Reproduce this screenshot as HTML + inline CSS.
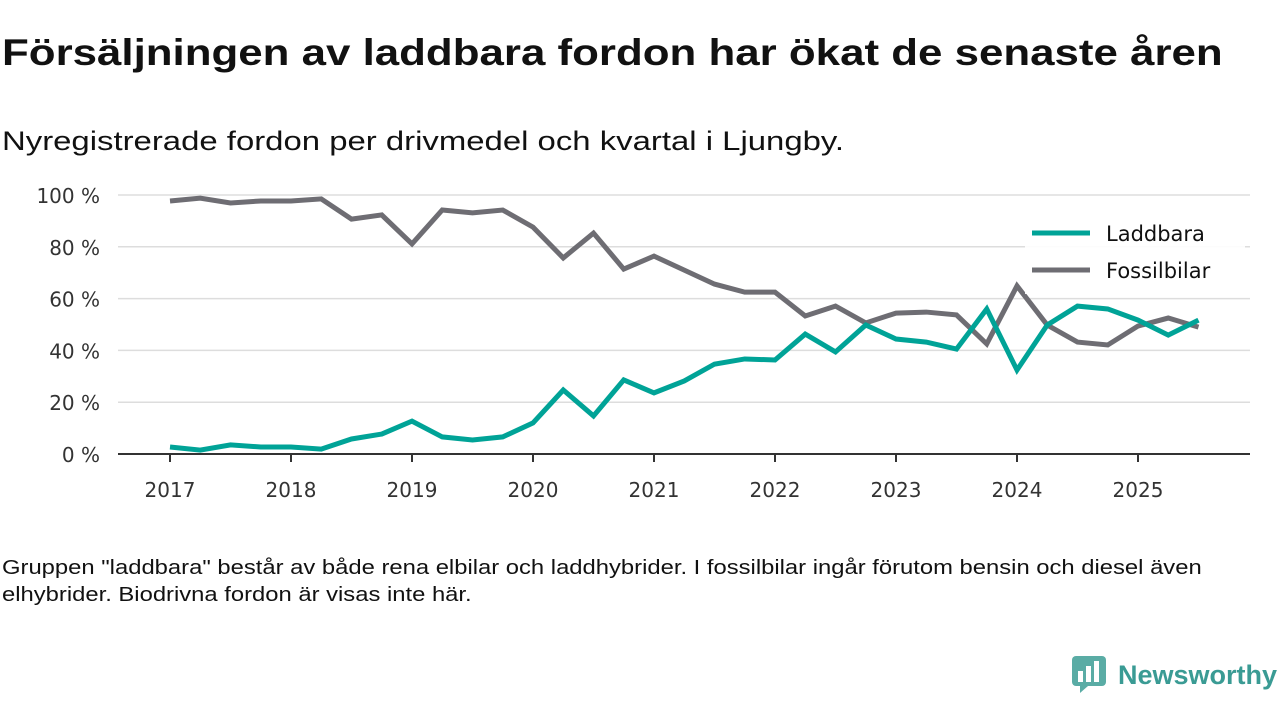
<!DOCTYPE html>
<html><head><meta charset="utf-8"><style>
body{margin:0;width:1280px;height:720px;background:#fff;font-family:"Liberation Sans","DejaVu Sans",sans-serif;color:#111;position:relative;overflow:hidden}
.t{position:absolute;left:2px;top:32px;font-size:37px;font-weight:bold;margin:0;transform:scaleX(1.185);transform-origin:0 0;white-space:nowrap}
.s{position:absolute;left:2px;top:126px;font-size:27px;transform:scaleX(1.218);transform-origin:0 0;white-space:nowrap}
.f{position:absolute;left:2px;top:555px;font-size:20px;line-height:27px;transform:scaleX(1.19);transform-origin:0 0;white-space:nowrap}
.logo{position:absolute;left:1072px;top:656px;display:flex;align-items:center;color:#3a9b94;font-size:27px;font-weight:bold}
</style></head><body>
<h1 class="t">Försäljningen av laddbara fordon har ökat de senaste åren</h1>
<div class="s">Nyregistrerade fordon per drivmedel och kvartal i Ljungby.</div>
<svg id="c" width="1280" height="720" style="position:absolute;left:0;top:0"></svg>
<div class="f">Gruppen "laddbara" består av både rena elbilar och laddhybrider. I fossilbilar ingår förutom bensin och diesel även<br>elhybrider. Biodrivna fordon är visas inte här.</div>
<div class="logo"><svg width="36" height="38" style="margin-right:10px"><rect x="0" y="0" width="34" height="30" rx="4" fill="#5aaca5"/><polygon points="8,30 16,30 8,37" fill="#5aaca5"/><rect x="6" y="15" width="5" height="11" fill="#fff"/><rect x="14" y="10" width="5" height="16" fill="#fff"/><rect x="22" y="5" width="5" height="21" fill="#fff"/></svg>Newsworthy</div>
<script>
const years=[2017,2018,2019,2020,2021,2022,2023,2024,2025];
const yTicks=[0,20,40,60,80,100];
const laddbara=[2.7,1.5,3.5,2.7,2.7,1.9,5.8,7.7,12.7,6.6,5.4,6.6,12.0,24.7,14.7,28.6,23.6,28.2,34.7,36.7,36.3,46.3,39.4,49.8,44.4,43.2,40.5,56.0,32.4,49.8,57.1,56.0,51.7,45.9,51.7];
const fossil=[97.7,98.8,96.9,97.7,97.7,98.5,90.7,92.3,81.1,94.2,93.1,94.2,87.6,75.7,85.3,71.4,76.4,71.0,65.6,62.5,62.5,53.3,57.1,50.6,54.4,54.8,53.7,42.5,64.9,49.8,43.2,42.1,49.4,52.5,49.0];
const svg=document.getElementById('c');const NS='http://www.w3.org/2000/svg';
const F='DejaVu Sans, sans-serif';
const x=t=>170+(t-2017)*121;const y=v=>454-v*2.59;
function mk(tag,a,p){const e=document.createElementNS(NS,tag);for(const k in a)e.setAttribute(k,a[k]);(p||svg).appendChild(e);return e;}
yTicks.forEach(v=>{
 if(v>0){const g=mk('line',{x1:118,x2:1250,y1:y(v),y2:y(v),stroke:'#ddd','stroke-width':1.5});
 
 }
 const t=mk('text',{x:100,y:y(v)+8,'text-anchor':'end','font-size':20,fill:'#333','font-family':F});t.textContent=v+' %';
 
 
});
const ax=mk('line',{x1:118,x2:1250,y1:454,y2:454,stroke:'#333','stroke-width':2});


years.forEach(yr=>{
 mk('line',{x1:x(yr),x2:x(yr),y1:454,y2:462,stroke:'#333','stroke-width':2});
 const t=mk('text',{x:x(yr),y:497,'text-anchor':'middle','font-size':20,fill:'#333','font-family':F});t.textContent=yr;
 
 
});
function line(d,col,name){const p=mk('polyline',{points:d.map((v,i)=>x(2017+i/4)+','+y(v)).join(' '),fill:'none',stroke:col,'stroke-width':5,'stroke-linejoin':'miter'});
 
 }
line(fossil,'#6e6d73','fossilbilar-line');
line(laddbara,'#00a397','laddbara-line');
mk('rect',{x:1025,y:218,width:220,height:76,fill:'#fff','fill-opacity':0.9});
[['Laddbara','#00a397',233],['Fossilbilar','#6e6d73',270]].forEach(([n,c,yy])=>{
 mk('line',{x1:1032,x2:1090,y1:yy,y2:yy,stroke:c,'stroke-width':5});
 const t=mk('text',{x:1106,y:yy+8,'font-size':21,fill:'#111','font-family':F});t.textContent=n;
 
 
});
</script>
</body></html>
